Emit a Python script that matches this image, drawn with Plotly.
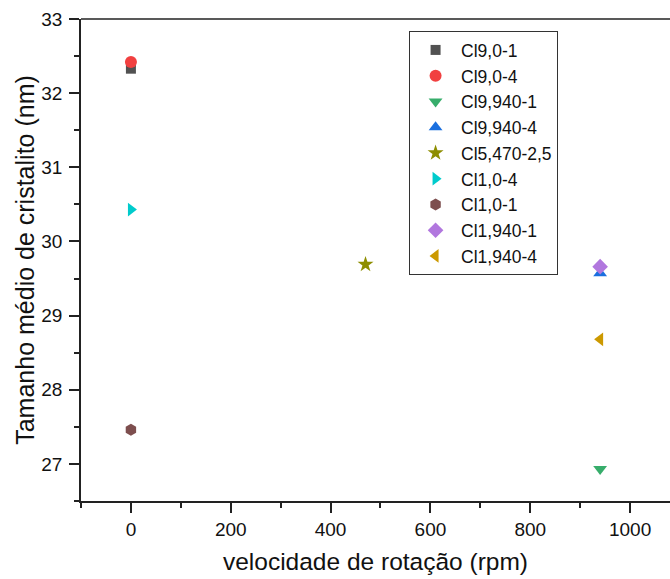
import plotly.graph_objects as go

names = ["Cl9,0-1", "Cl9,0-4", "Cl9,940-1", "Cl9,940-4", "Cl5,470-2,5",
         "Cl1,0-4", "Cl1,0-1", "Cl1,940-1", "Cl1,940-4"]
x_rpm = [0, 0, 940, 940, 470, 0, 0, 940, 940]
y_nm = [32.33, 32.42, 26.93, 29.57, 29.69, 30.43, 27.46, 29.66, 28.68]
symbols = ["square", "circle", "triangle-down", "triangle-up", "star",
           "triangle-right", "hexagon", "diamond", "triangle-left"]
colors = ["#515151", "#F14040", "#37AD6B", "#1A6FDF", "#8E8E00",
          "#00CBCC", "#7D4E4E", "#B177DE", "#CC9900"]
sizes = [10, 12, 12, 12, 12, 12, 12, 12, 12]

fig = go.Figure()
for n, xv, yv, s, c, sz in zip(names, x_rpm, y_nm, symbols, colors, sizes):
    fig.add_trace(go.Scatter(x=[xv], y=[yv], mode="markers", name=n,
                             marker=dict(symbol=s, color=c, size=sz, line=dict(width=0))))

font = "Liberation Sans, Arial, sans-serif"
axis_common = dict(showline=True, linecolor="#222", linewidth=1.6, ticks="outside",
                   tickcolor="#222", tickwidth=1.6, ticklen=10, showgrid=False,
                   zeroline=False, tickfont=dict(family=font, size=19, color="#111"))
fig.update_layout(
    width=670, height=579,
    margin=dict(l=81, r=0, t=19, b=78),
    paper_bgcolor="white", plot_bgcolor="white",
    font=dict(family=font, color="#111"),
    xaxis=dict(range=[-100, 1080], tickvals=[0, 200, 400, 600, 800, 1000],
               minor=dict(dtick=100, tick0=0, ticks="outside", ticklen=5, tickcolor="#222", tickwidth=1.6),
               title=dict(text="velocidade de rotação (rpm)", font=dict(family=font, size=24.5), standoff=14),
               ticklabelstandoff=0,
               **axis_common),
    yaxis=dict(range=[26.5, 33], tickvals=[27, 28, 29, 30, 31, 32, 33],
               minor=dict(dtick=0.5, tick0=0, ticks="outside", ticklen=5, tickcolor="#222", tickwidth=1.6),
               title=dict(text="Tamanho médio de cristalito (nm)", font=dict(family=font, size=25), standoff=0),
               ticklabelstandoff=3,
               **axis_common),
    legend=dict(x=0.557, y=0.975, xanchor="left", yanchor="top",
                bordercolor="#333", borderwidth=1, bgcolor="white",
                font=dict(family=font, size=17.5, color="#111"),
                tracegroupgap=0, itemsizing="trace", itemwidth=41),
    shapes=[dict(type="line", xref="paper", yref="paper", x0=0, x1=1, y0=1, y1=1,
                 line=dict(color="#222", width=1.6))],
    showlegend=True,
)

fig.write_html("out.html")
